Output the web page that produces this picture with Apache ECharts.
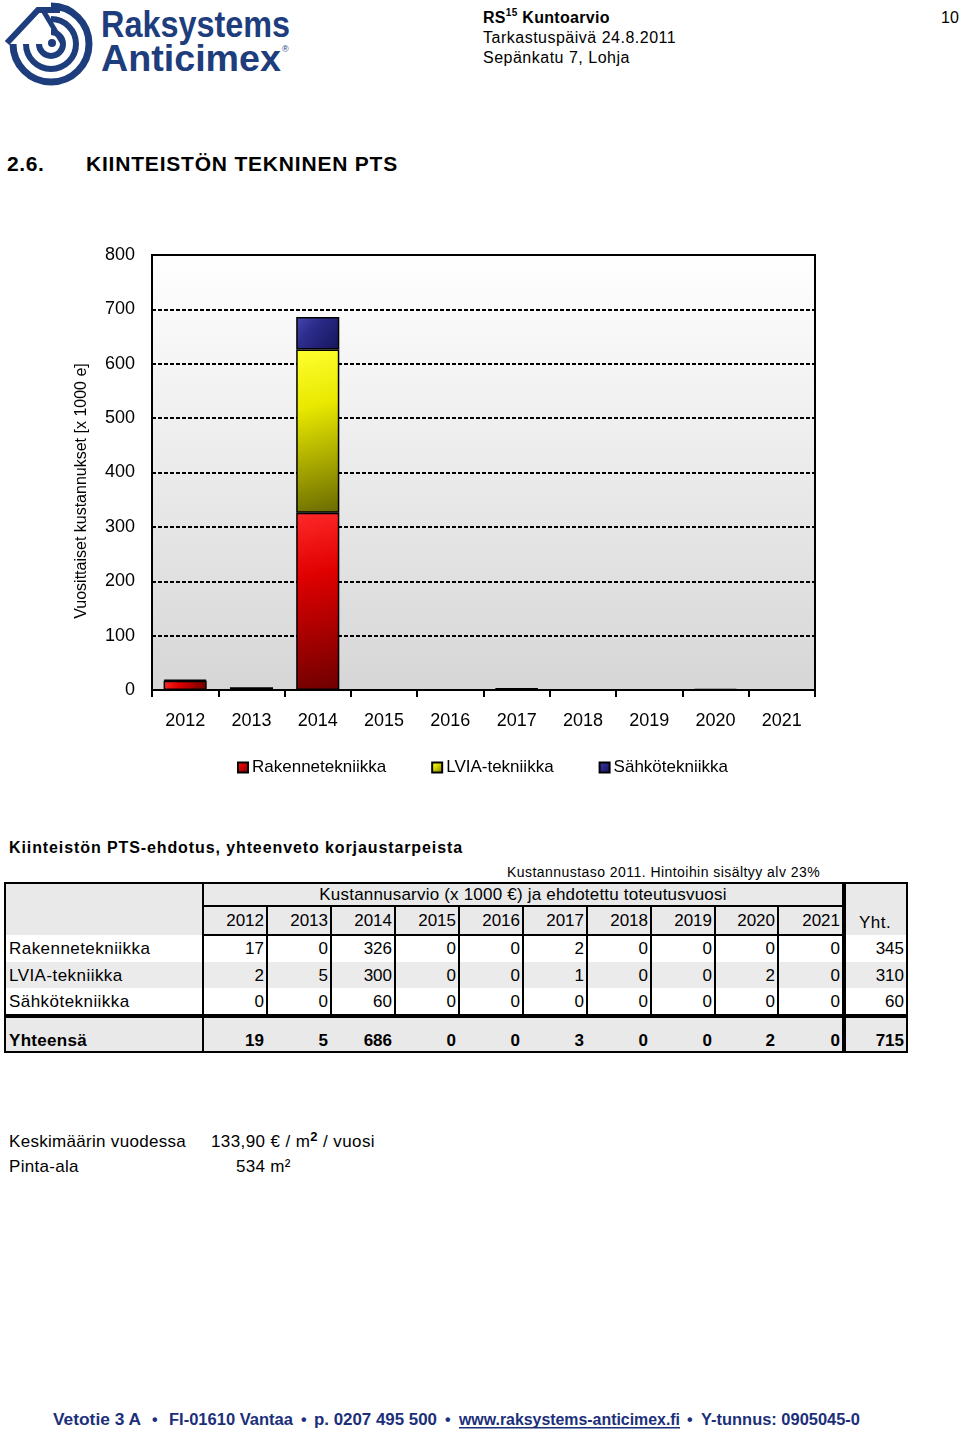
<!DOCTYPE html>
<html>
<head>
<meta charset="utf-8">
<script src="https://cdn.jsdelivr.net/npm/echarts@6/dist/echarts.min.js"></script>
<style>
  html,body{margin:0;padding:0;background:#fff;}
  body{width:960px;height:1432px;position:relative;overflow:hidden;font-family:"Liberation Sans",Arial,sans-serif;color:#000;}
  .abs{position:absolute;white-space:nowrap;}
  .cell{position:absolute;box-sizing:border-box;font-size:17px;line-height:1;display:flex;align-items:center;}
  .ln{position:absolute;background:#000;}
</style>
</head>
<body>
<!-- logo -->
<svg class="abs" style="left:0;top:0" width="300" height="90" viewBox="0 0 300 90">
  <g fill="none" stroke="#1d3d7c" stroke-linecap="butt">
    <path d="M 13 44 A 38 38 0 1 0 51 6" stroke-width="7"/>
    <path d="M 26 44 A 25 25 0 1 0 51 19" stroke-width="6"/>
    <path d="M 39 44 A 12 12 0 1 0 51 32" stroke-width="6"/>
    <path d="M 7 43 L 38 10 L 60 10" stroke-width="6"/>
    <path d="M 44 12 L 62 42" stroke-width="5"/>
  </g>
  <circle cx="52" cy="43" r="4" fill="#1d3d7c"/>
  <text x="101" y="37" font-family="Liberation Sans, Arial, sans-serif" font-weight="bold" font-size="36" fill="#1d3d7c" textLength="189" lengthAdjust="spacingAndGlyphs">Raksystems</text>
  <text x="101" y="71" font-family="Liberation Sans, Arial, sans-serif" font-weight="bold" font-size="36" fill="#1d3d7c" textLength="180" lengthAdjust="spacingAndGlyphs">Anticimex</text>
  <text x="282" y="52" font-family="Liberation Sans, Arial, sans-serif" font-size="9" fill="#1d3d7c">®</text>
</svg>

<div class="abs" style="left:483px;top:9px;font-size:16px;font-weight:bold;letter-spacing:0.3px;">RS<sup style="font-size:10px;vertical-align:7px;line-height:0">15</sup> Kuntoarvio</div>
<div class="abs" style="left:483px;top:29px;font-size:16px;letter-spacing:0.5px;">Tarkastuspäivä 24.8.2011</div>
<div class="abs" style="left:483px;top:49px;font-size:16px;letter-spacing:0.5px;">Sepänkatu 7, Lohja</div>
<div class="abs" style="left:941px;top:9px;font-size:16px;">10</div>

<div class="abs" style="left:7px;top:152px;font-size:21px;font-weight:bold;letter-spacing:0.6px;">2.6.</div>
<div class="abs" style="left:86px;top:152px;font-size:21px;font-weight:bold;letter-spacing:0.8px;">KIINTEISTÖN TEKNINEN PTS</div>

<div id="chart" class="abs" style="left:0;top:230px;width:960px;height:570px;"></div>

<div class="abs" style="left:9px;top:839px;font-size:16px;font-weight:bold;letter-spacing:0.9px;">Kiinteistön PTS-ehdotus, yhteenveto korjaustarpeista</div>
<div class="abs" style="left:507px;top:864px;font-size:14px;letter-spacing:0.45px;">Kustannustaso 2011. Hintoihin sisältyy alv 23%</div>

<div id="table"></div>

<div class="abs" style="left:9px;top:1132px;font-size:17px;letter-spacing:0.3px;">Keskimäärin vuodessa</div>
<div class="abs" style="left:211px;top:1132px;font-size:17px;letter-spacing:0.4px;">133,90 € / m<sup style="font-size:13px;font-weight:bold;vertical-align:6px;line-height:0">2</sup> / vuosi</div>
<div class="abs" style="left:9px;top:1157px;font-size:17px;letter-spacing:0.3px;">Pinta-ala</div>
<div class="abs" style="left:236px;top:1157px;font-size:17px;letter-spacing:0.3px;">534 m²</div>

<svg class="abs" style="left:0;top:1400px" width="960" height="32" viewBox="0 0 960 32">
  <g font-family="Liberation Sans, Arial, sans-serif" font-weight="bold" font-size="16" fill="#1c2f7a">
    <text x="53" y="25" textLength="88" lengthAdjust="spacingAndGlyphs">Vetotie 3 A</text>
    <text x="152" y="25">•</text>
    <text x="169" y="25" textLength="124" lengthAdjust="spacingAndGlyphs">FI-01610 Vantaa</text>
    <text x="301" y="25">•</text>
    <text x="314" y="25" textLength="123" lengthAdjust="spacingAndGlyphs">p. 0207 495 500</text>
    <text x="445" y="25">•</text>
    <text x="459" y="25" textLength="221" lengthAdjust="spacingAndGlyphs">www.raksystems-anticimex.fi</text>
    <text x="687" y="25">•</text>
    <text x="701" y="25" textLength="159" lengthAdjust="spacingAndGlyphs">Y-tunnus: 0905045-0</text>
  </g>
  <rect x="459" y="27" width="221" height="1.5" fill="#1c2f7a"/>
</svg>

<script>
// ---- data ----
const years = ['2012','2013','2014','2015','2016','2017','2018','2019','2020','2021'];
const seriesNames = ['Rakennetekniikka','LVIA-tekniikka','Sähkötekniikka'];
const rakennetekniikka = [17, 0, 326, 0, 0, 2, 0, 0, 0, 0];
const lviaTekniikka   = [2, 5, 300, 0, 0, 1, 0, 0, 2, 0];
const sahkotekniikka  = [0, 0, 60, 0, 0, 0, 0, 0, 0, 0];
const rowTotals = [345, 310, 60];
const yearTotals = [19, 5, 686, 0, 0, 3, 0, 0, 2, 0];
const grandTotal = 715;
const yAxisMin = 0, yAxisMax = 800, yAxisStep = 100;
const yAxisTitle = 'Vuosittaiset kustannukset [x 1000 e]';

// ---- chart ----
const allSeries = [rakennetekniikka, lviaTekniikka, sahkotekniikka];
const gradients = [
  ['#ff2a2a', '#e00000', '#6e0000'],
  ['#ffff30', '#e8e800', '#6a6a00'],
  ['#4848b0', '#2c2c8c', '#15155a']
];
const chart = echarts.init(document.getElementById('chart'), null, {renderer: 'canvas'});
const FONT = '"Liberation Sans", Arial, sans-serif';
chart.setOption({
  animation: false,
  textStyle: {fontFamily: FONT, color: '#000'},
  grid: {
    left: 152, top: 25, width: 663, height: 435, show: true,
    borderColor: '#000', borderWidth: 2,
    backgroundColor: {type: 'linear', x: 0, y: 0, x2: 0, y2: 1,
      colorStops: [{offset: 0, color: '#ffffff'}, {offset: 1, color: '#d6d6d6'}]}
  },
  legend: {
    left: 237, top: 529, padding: 0, itemWidth: 10, itemHeight: 10, itemGap: 45,
    icon: 'rect',
    textStyle: {fontFamily: FONT, fontSize: 17, color: '#000', padding: [0, 0, 0, -1]},
    data: seriesNames
  },
  xAxis: {
    type: 'category', data: years,
    axisLine: {lineStyle: {color: '#000', width: 2}},
    axisTick: {show: true, length: 7, lineStyle: {color: '#000', width: 2}},
    axisLabel: {fontFamily: FONT, fontSize: 18, color: '#000', margin: 22}
  },
  yAxis: {
    type: 'value', min: yAxisMin, max: yAxisMax, interval: yAxisStep,
    axisLine: {show: true, lineStyle: {color: '#000', width: 2}},
    axisTick: {show: false},
    axisLabel: {fontFamily: FONT, fontSize: 18, color: '#000', margin: 17},
    splitLine: {show: true, lineStyle: {color: '#000', width: 2, type: [4, 2]}}
  },
  graphic: [{
    type: 'text', x: 82, y: 261, rotation: Math.PI / 2,
    style: {text: yAxisTitle, fontFamily: FONT, fontSize: 16, fill: '#000',
      textAlign: 'center', textVerticalAlign: 'middle'}
  }],
  series: allSeries.map((arr, i) => ({
    name: seriesNames[i], type: 'bar', stack: 'total', barWidth: '65%',
    data: arr.map(v => v === 0 ? '-' : v),
    itemStyle: {
      borderColor: '#000', borderWidth: 1.5,
      color: new echarts.graphic.LinearGradient(0, 0, 1, 1, [
        {offset: 0, color: gradients[i][0]},
        {offset: 0.35, color: gradients[i][1]},
        {offset: 1, color: gradients[i][2]}
      ])
    }
  }))
});

// ---- table ----
const tbl = document.getElementById('table');
const colX = [5, 203, 267, 331, 395, 459, 523, 587, 651, 715, 778, 843, 907];
const GRAY = '#e9e9e9';
function cell(x, y, w, h, text, opts) {
  opts = opts || {};
  const d = document.createElement('div');
  d.className = 'cell';
  d.style.left = x + 'px'; d.style.top = y + 'px';
  d.style.width = w + 'px'; d.style.height = h + 'px';
  d.style.background = opts.bg || '#fff';
  d.style.justifyContent = opts.align || 'flex-end';
  if (opts.align === 'flex-start') d.style.paddingLeft = (opts.pad || 4) + 'px';
  else if (opts.align === 'center') {} else d.style.paddingRight = (opts.pad || 3) + 'px';
  if (opts.bold) d.style.fontWeight = 'bold';
  if (opts.valign) d.style.alignItems = opts.valign;
  if (opts.padBottom) d.style.paddingBottom = opts.padBottom + 'px';
  if (opts.ls) d.style.letterSpacing = opts.ls + 'px';
  d.textContent = text;
  tbl.appendChild(d);
}
function line(x, y, w, h) {
  const d = document.createElement('div');
  d.className = 'ln';
  d.style.left = x + 'px'; d.style.top = y + 'px';
  d.style.width = w + 'px'; d.style.height = h + 'px';
  tbl.appendChild(d);
}
// header
cell(5, 883, 198, 52, '', {bg: GRAY});
cell(203, 883, 640, 23, 'Kustannusarvio (x 1000 €) ja ehdotettu toteutusvuosi', {bg: GRAY, align: 'center', ls: 0.2});
cell(843, 883, 64, 52, 'Yht.', {bg: GRAY, align: 'center', valign: 'flex-end', padBottom: 4, ls: 0.5});
years.forEach((y, i) => cell(colX[i + 1], 906, colX[i + 2] - colX[i + 1], 29, y, {bg: GRAY}));
// data rows
const rowY = [935, 962, 988], rowH = [27, 26, 26];
allSeries.forEach((arr, r) => {
  const bg = r === 1 ? '#ebebeb' : '#fff';
  cell(5, rowY[r], 198, rowH[r], seriesNames[r], {bg: bg, align: 'flex-start', ls: 0.45});
  arr.forEach((v, i) => cell(colX[i + 1], rowY[r], colX[i + 2] - colX[i + 1], rowH[r], String(v), {bg: bg}));
  cell(843, rowY[r], 64, rowH[r], String(rowTotals[r]), {bg: bg});
});
// totals
cell(5, 1018, 198, 34, 'Yhteensä', {bg: GRAY, align: 'flex-start', bold: true, valign: 'flex-end', padBottom: 3, ls: 0.3});
yearTotals.forEach((v, i) => cell(colX[i + 1], 1018, colX[i + 2] - colX[i + 1], 34, String(v), {bg: GRAY, bold: true, valign: 'flex-end', padBottom: 3}));
cell(843, 1018, 64, 34, String(grandTotal), {bg: GRAY, bold: true, valign: 'flex-end', padBottom: 3});
// borders
line(5, 882, 903, 2);      // top
line(5, 1051, 903, 2);     // bottom
line(4, 882, 2, 171);      // left
line(906, 882, 2, 171);    // right
line(202, 882, 2, 171);    // label col
line(842, 882, 4, 171);    // thick before Yht.
line(203, 905, 640, 2);    // under main header
line(203, 934, 640, 2);    // under years
line(5, 1014, 903, 4);     // thick above totals
for (let i = 2; i <= 10; i++) line(colX[i] - 1, 906, 2, 108);
</script>
</body>
</html>
